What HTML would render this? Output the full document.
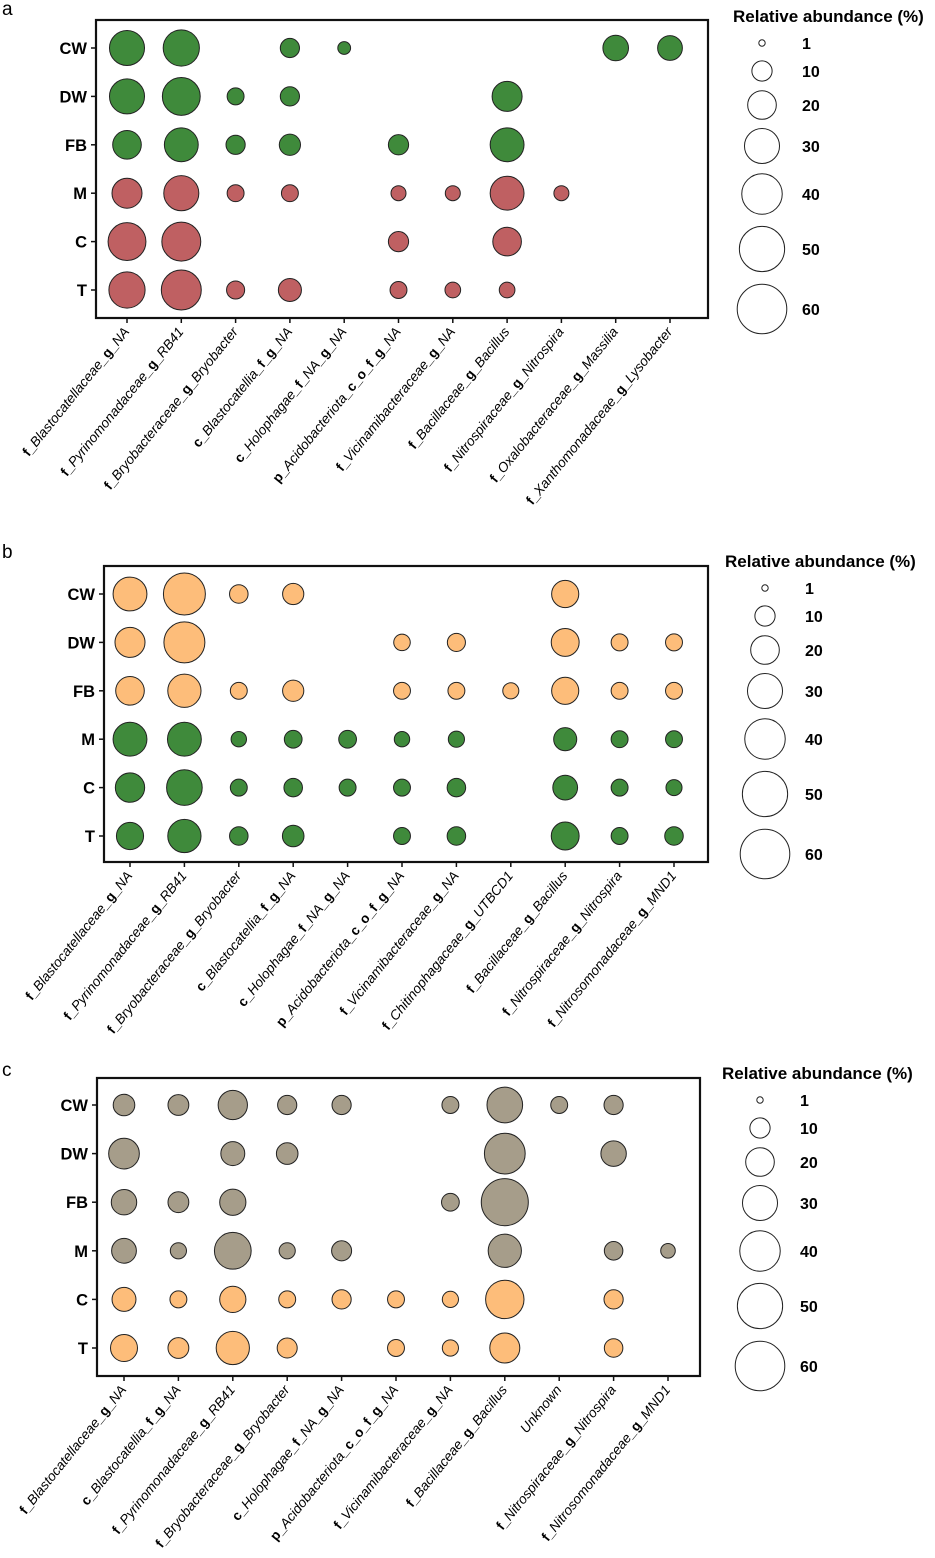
<!DOCTYPE html>
<html><head><meta charset="utf-8"><style>
html,body{margin:0;padding:0;background:#fff;}
svg{display:block;font-family:"Liberation Sans",Arial,sans-serif;}
</style></head><body>
<svg id="fig" width="935" height="1558" viewBox="0 0 935 1558" xmlns="http://www.w3.org/2000/svg"></svg>
<script>
const rowsAll = ["CW","DW","FB","M","C","T"];
const legendValues = [1,10,20,30,40,50,60];

const catsA = ["f_Blastocatellaceae_g_NA","f_Pyrinomonadaceae_g_RB41","f_Bryobacteraceae_g_Bryobacter","c_Blastocatellia_f_g_NA","c_Holophagae_f_NA_g_NA","p_Acidobacteriota_c_o_f_g_NA","f_Vicinamibacteraceae_g_NA","f_Bacillaceae_g_Bacillus","f_Nitrospiraceae_g_Nitrospira","f_Oxalobacteraceae_g_Massilia","f_Xanthomonadaceae_g_Lysobacter"];
const valsA_CW = [30,32,0,9,4,0,0,0,0,16,15];
const valsA_DW = [30,35,7,9,0,0,0,22,0,0,0];
const valsA_FB = [20,28,9,11,0,10,0,28,0,0,0];
const valsA_M  = [22,30,7,7,0,5.5,5.5,28,5.5,0,0];
const valsA_C  = [35,37,0,0,0,10,0,20,0,0,0];
const valsA_T  = [32,39,8,13,0,7,6,6,0,0,0];

const catsB = ["f_Blastocatellaceae_g_NA","f_Pyrinomonadaceae_g_RB41","f_Bryobacteraceae_g_Bryobacter","c_Blastocatellia_f_g_NA","c_Holophagae_f_NA_g_NA","p_Acidobacteriota_c_o_f_g_NA","f_Vicinamibacteraceae_g_NA","f_Chitinophagaceae_g_UTBCD1","f_Bacillaceae_g_Bacillus","f_Nitrospiraceae_g_Nitrospira","f_Nitrosomonadaceae_g_MND1"];
const valsB_CW = [28,43,8.4,11,0,0,0,0,18,0,0];
const valsB_DW = [22,41,0,0,0,6.7,8,0,19,7,7];
const valsB_FB = [20,27,7,11,0,7,7,6.3,18,7,7];
const valsB_M  = [28,28,5.8,7.7,7.7,5.8,6.4,0,13,7,7];
const valsB_C  = [21,31,7,8.4,7,7,8.4,0,15,7,6.3];
const valsB_T  = [18,27,8.4,11.4,0,7,8.4,0,19,7,8.4];

const catsC = ["f_Blastocatellaceae_g_NA","c_Blastocatellia_f_g_NA","f_Pyrinomonadaceae_g_RB41","f_Bryobacteraceae_g_Bryobacter","c_Holophagae_f_NA_g_NA","p_Acidobacteriota_c_o_f_g_NA","f_Vicinamibacteraceae_g_NA","f_Bacillaceae_g_Bacillus","Unknown","f_Nitrospiraceae_g_Nitrospira","f_Nitrosomonadaceae_g_MND1"];
const valsC_CW = [11.4,10.6,21,9,9,0,7,31,7,9,0];
const valsC_DW = [23,0,14,11.4,0,0,0,40.6,0,15.8,0];
const valsC_FB = [15.8,10.6,16.8,0,0,0,7.7,54,0,0,0];
const valsC_M  = [15,6.4,33,6.4,9.8,0,0,27,0,8.4,5.2];
const valsC_C  = [14,7,16.8,7,9,7,6.4,36,0,9,0];
const valsC_T  = [17.8,10.6,27,9.8,0,7,6.4,22,0,8.4,0];

const GREEN="#3f8a3b", RED="#bf6062", ORANGE="#fdbd7a", GRAY="#a69d8a";
const NS="http://www.w3.org/2000/svg";
const svg=document.getElementById('fig');
function mk(tag,attrs,parent){const e=document.createElementNS(NS,tag);for(const k in attrs)e.setAttribute(k,attrs[k]);(parent||svg).appendChild(e);return e;}
function rScale(v){return 3.2*Math.sqrt(v);}

function drawPanel(p){
  const g=mk('g',{});
  
  
  const letter=mk('text',{x:2,y:p.letterY,'font-size':19},g);
  letter.textContent=p.id;
  
  
  const frame=mk('rect',{x:p.L,y:p.T,width:p.R-p.L,height:p.B-p.T,fill:'none',stroke:'#111','stroke-width':2.2},g);
  
  
  const n=p.cats.length;
  const step=(p.xLast-p.xFirst)/(n-1);
  const xs=i=>p.xFirst+i*step;
  const ystep=(p.yLast-p.yFirst)/(rowsAll.length-1);
  const ys=j=>p.yFirst+j*ystep;
  rowsAll.forEach((r,j)=>{
    mk('line',{x1:p.L-5,x2:p.L,y1:ys(j),y2:ys(j),stroke:'#111','stroke-width':1.5},g);
    const t=mk('text',{x:p.L-9,y:ys(j)+6,'text-anchor':'end','font-size':16.5,'font-weight':'bold'},g);
    t.textContent=r;
    
    
  });
  p.cats.forEach((c,i)=>{
    mk('line',{x1:xs(i),x2:xs(i),y1:p.B,y2:p.B+5,stroke:'#111','stroke-width':1.5},g);
    const t=mk('text',{'text-anchor':'end','font-size':13.6,'font-style':'italic',transform:`translate(${xs(i)+3},${p.B+14}) rotate(-51)`},g);
    
    
    c.split('_').forEach((seg,k,arr)=>{
      const ts=mk('tspan',{},t);
      const bold=/^[fcpog]$/.test(seg);
      if(bold){ts.setAttribute('font-weight','bold');ts.setAttribute('font-style','normal');}
      ts.textContent=seg+(k<arr.length-1?'_':'');
    });
  });
  p.vals.forEach((row,j)=>{
    row.forEach((v,i)=>{
      if(!v)return;
      const c=mk('circle',{cx:xs(i),cy:ys(j),r:rScale(v),fill:p.colors[j],stroke:'#222','stroke-width':1},g);
      
      
    });
  });
  const lg=mk('g',{},g);
  
  
  const tt=mk('text',{x:p.titleX,y:p.legY[0]-21,'font-size':17,'font-weight':'bold'},lg);
  tt.textContent='Relative abundance (%)';
  
  
  legendValues.forEach((v,k)=>{
    const c=mk('circle',{cx:p.legX,cy:p.legY[k],r:rScale(v),fill:'none',stroke:'#222','stroke-width':1},lg);
    
    
    const t=mk('text',{x:p.legX+40,y:p.legY[k]+6,'font-size':16,'font-weight':'bold'},lg);
    t.textContent=v;
    
    
  });
}
const legOff=[0,28,62,103,151,206,266];
drawPanel({id:'a',letterY:15,L:96,R:708,T:20,B:318,xFirst:127,xLast:670,yFirst:48,yLast:290,
  cats:catsA,vals:[valsA_CW,valsA_DW,valsA_FB,valsA_M,valsA_C,valsA_T],
  colors:[GREEN,GREEN,GREEN,RED,RED,RED],legX:762,titleX:733,legY:legOff.map(o=>43+o)});
drawPanel({id:'b',letterY:558,L:104,R:708,T:566,B:862,xFirst:130,xLast:674,yFirst:594,yLast:836,
  cats:catsB,vals:[valsB_CW,valsB_DW,valsB_FB,valsB_M,valsB_C,valsB_T],
  colors:[ORANGE,ORANGE,ORANGE,GREEN,GREEN,GREEN],legX:765,titleX:725,legY:legOff.map(o=>588+o)});
drawPanel({id:'c',letterY:1076,L:97,R:700,T:1078,B:1376,xFirst:124,xLast:668,yFirst:1105,yLast:1348,
  cats:catsC,vals:[valsC_CW,valsC_DW,valsC_FB,valsC_M,valsC_C,valsC_T],
  colors:[GRAY,GRAY,GRAY,GRAY,ORANGE,ORANGE],legX:760,titleX:722,legY:legOff.map(o=>1100+o)});
</script>
</body></html>
